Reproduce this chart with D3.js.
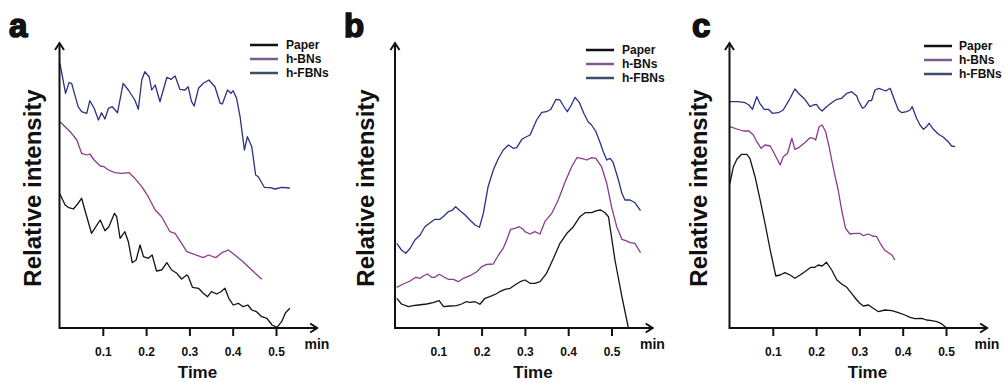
<!DOCTYPE html>
<html><head><meta charset="utf-8">
<script src="https://cdn.jsdelivr.net/npm/d3@7"></script>
<style>
html,body{margin:0;padding:0;background:#fff;}
svg{display:block;}
text{font-family:"Liberation Sans",Arial,sans-serif;font-weight:bold;fill:#111;}
</style></head>
<body>
<svg id="chart" width="1005" height="383"></svg>
<script>
// ---------- DATA (time in min, relative intensity a.u.) ----------
const seriesNames = ["Paper", "h-BNs", "h-FBNs"];
const xTicks = [0.1, 0.2, 0.3, 0.4, 0.5];
const panelLabels = ["a", "b", "c"];

const paperA = [[0.001,134],[0.013,123],[0.020,120.7],[0.032,119],[0.040,123],[0.051,129.7],[0.063,111.3],[0.074,94.7],[0.084,101.3],[0.094,108],[0.105,97.3],[0.114,101.3],[0.127,114.7],[0.132,111.3],[0.140,89.7],[0.151,96.3],[0.159,86.3],[0.168,65.3],[0.177,68],[0.186,83],[0.194,71.3],[0.205,69.7],[0.214,73],[0.224,57],[0.236,58],[0.248,65.3],[0.259,58],[0.271,54.7],[0.282,49],[0.294,53],[0.297,52],[0.307,40.7],[0.321,39.7],[0.332,34.7],[0.342,31.3],[0.351,36.3],[0.363,34],[0.373,36.3],[0.382,39.7],[0.391,29.7],[0.401,23],[0.413,24.7],[0.424,21.3],[0.435,23],[0.444,18],[0.455,16.3],[0.467,11.3],[0.479,9.7],[0.491,3],[0.502,0.7],[0.513,6.3],[0.522,15.3],[0.532,19.7]];
const bnsA = [[0.001,206.3],[0.013,201.3],[0.028,194.7],[0.040,188],[0.051,174.7],[0.063,173],[0.070,174],[0.080,168],[0.094,162],[0.103,161.3],[0.113,158],[0.128,155.3],[0.144,154.7],[0.161,155.3],[0.174,149.7],[0.190,141.3],[0.205,131.3],[0.221,118],[0.236,111.3],[0.255,96.3],[0.267,94.7],[0.282,84.7],[0.294,76.3],[0.305,74.7],[0.332,70.3],[0.344,73],[0.361,70.3],[0.375,75.3],[0.390,78],[0.405,73],[0.424,66.3],[0.444,58],[0.467,48.7]];
const fbnsA = [[0.001,264.7],[0.014,234.7],[0.022,245.3],[0.028,244.7],[0.043,221.3],[0.051,216.3],[0.063,214.7],[0.070,227.3],[0.080,219.7],[0.090,208],[0.097,215.3],[0.105,209],[0.113,219.7],[0.122,221.3],[0.134,215.3],[0.147,244.7],[0.159,238],[0.174,228],[0.182,218.7],[0.190,248],[0.197,256.3],[0.207,251.3],[0.213,238],[0.221,243],[0.232,226.3],[0.248,250.7],[0.258,248.7],[0.267,252],[0.278,238.7],[0.290,238],[0.297,241.3],[0.305,226.3],[0.311,222],[0.321,239.7],[0.332,244.7],[0.345,248],[0.359,241.3],[0.371,224.7],[0.376,224],[0.388,238],[0.396,234.7],[0.401,237.3],[0.409,229.7],[0.417,211.3],[0.427,178],[0.434,191.3],[0.444,181.3],[0.453,153],[0.459,151.3],[0.473,140.7],[0.486,140.3],[0.498,139],[0.513,140.7],[0.532,140]];

const paperB = [[0.004,29.7],[0.015,24],[0.031,21.3],[0.042,22.3],[0.054,23],[0.073,24],[0.088,25.3],[0.102,27.3],[0.112,21.3],[0.127,22],[0.142,22.3],[0.154,24],[0.164,26.3],[0.173,25.7],[0.185,26.3],[0.196,23.7],[0.208,29.7],[0.219,31.3],[0.233,34],[0.242,36.3],[0.254,38.7],[0.266,39.7],[0.277,43],[0.289,46.3],[0.300,48],[0.312,44.7],[0.323,44.7],[0.335,46.3],[0.350,54.7],[0.366,69.7],[0.381,84.7],[0.397,94.7],[0.412,101.3],[0.427,111.3],[0.439,115.3],[0.454,115.3],[0.466,117.3],[0.475,118],[0.485,115.3],[0.493,111.3],[0.508,68],[0.524,31.3],[0.539,0]];
const bnsB = [[0.004,40.7],[0.019,44],[0.035,47],[0.048,50.7],[0.058,49.7],[0.065,52],[0.075,54],[0.085,50.7],[0.092,50.7],[0.102,53.7],[0.112,51.3],[0.123,48.7],[0.135,48.7],[0.146,46.3],[0.158,49.7],[0.173,52.3],[0.189,56.3],[0.200,61.3],[0.212,63.7],[0.227,64],[0.239,73],[0.250,79.7],[0.258,88],[0.267,98.7],[0.277,99.7],[0.287,101.3],[0.296,98.7],[0.300,96.3],[0.312,94],[0.323,96.3],[0.335,94],[0.346,106.3],[0.362,114.7],[0.377,128],[0.393,146.3],[0.408,161.3],[0.420,170.3],[0.431,169.7],[0.443,168],[0.454,170.3],[0.464,169.7],[0.477,161.3],[0.489,144.7],[0.500,121.3],[0.512,101.3],[0.524,88.7],[0.533,87.3],[0.543,85.3],[0.554,84.7],[0.567,75.3]];
const fbnsB = [[0.004,84.7],[0.015,78],[0.025,74.7],[0.035,79.7],[0.046,88],[0.058,93],[0.069,101.3],[0.081,105.3],[0.092,108.7],[0.104,108.7],[0.113,112],[0.123,116.3],[0.131,117.3],[0.140,121.3],[0.150,117.3],[0.162,113],[0.173,108],[0.185,103],[0.195,100.7],[0.204,114.7],[0.215,141.3],[0.227,158],[0.239,169.7],[0.250,178],[0.262,183],[0.273,179.7],[0.281,180.3],[0.293,188.7],[0.300,190.5],[0.312,193],[0.327,208],[0.339,215.7],[0.350,216.3],[0.360,218.7],[0.372,228.7],[0.381,228],[0.389,222],[0.398,216.3],[0.406,222],[0.416,230.7],[0.426,225.3],[0.436,214.7],[0.446,206.3],[0.454,203],[0.464,196.3],[0.473,186.3],[0.481,176.3],[0.489,168],[0.497,169.7],[0.504,165.3],[0.516,148],[0.524,134.7],[0.531,128],[0.543,128],[0.554,125.3],[0.567,117.3]];

const paperC = [[0.001,144.7],[0.009,161.3],[0.017,168.7],[0.028,173.7],[0.040,173.7],[0.047,169.7],[0.059,151.3],[0.070,129.7],[0.082,104.7],[0.094,78],[0.107,52],[0.117,53],[0.128,55.3],[0.140,53],[0.151,49.7],[0.163,53],[0.174,56.3],[0.188,60.7],[0.197,60.7],[0.205,63],[0.214,62],[0.224,65.7],[0.236,58],[0.248,48],[0.259,44],[0.271,40.7],[0.282,34.7],[0.294,28],[0.301,24.7],[0.309,22],[0.321,23],[0.332,19.7],[0.344,16.3],[0.359,18],[0.375,17.3],[0.390,15.3],[0.405,13],[0.417,10.7],[0.428,9.3],[0.444,9.7],[0.455,8],[0.467,7.3],[0.479,6.3],[0.488,4.7],[0.498,1.3],[0.502,0]];
const bnsC = [[0.001,201.3],[0.017,199],[0.032,197],[0.045,197],[0.055,193],[0.063,186.3],[0.073,179.7],[0.082,183],[0.094,182],[0.103,174.7],[0.117,163],[0.124,171.3],[0.134,174.7],[0.144,189.7],[0.151,178.7],[0.161,180.7],[0.174,185.3],[0.186,190.3],[0.194,189.7],[0.199,188],[0.207,201.3],[0.214,203],[0.222,196.3],[0.230,181.3],[0.236,168],[0.244,151.3],[0.251,138],[0.259,118],[0.268,99.7],[0.278,94],[0.290,94.7],[0.301,94.7],[0.309,92.3],[0.321,94],[0.330,92],[0.340,91.3],[0.348,84.7],[0.358,78],[0.367,75.3],[0.375,73],[0.382,68]];
const fbnsC = [[0.001,226.3],[0.020,226.3],[0.036,225.3],[0.045,223],[0.053,218.7],[0.063,231.3],[0.070,224.7],[0.080,218.7],[0.090,218.7],[0.099,214.7],[0.113,215.3],[0.124,218],[0.140,229.7],[0.151,239],[0.161,234],[0.174,228.7],[0.186,221.3],[0.194,223],[0.201,223.7],[0.207,219.7],[0.214,217],[0.224,221.3],[0.236,225.3],[0.248,228.7],[0.259,229.7],[0.271,234.7],[0.282,236.3],[0.294,232],[0.297,228],[0.307,219.7],[0.313,221.3],[0.322,227.3],[0.328,227.3],[0.336,238],[0.345,239.7],[0.355,238],[0.361,237],[0.371,239.7],[0.381,228],[0.390,218],[0.398,215.3],[0.409,216.3],[0.417,218],[0.422,221.3],[0.432,209.7],[0.440,203],[0.448,198.7],[0.455,201.3],[0.461,204.7],[0.471,198.7],[0.482,194],[0.494,190.7],[0.505,186.3],[0.513,182],[0.521,181.3]];

// ---------- LAYOUT ----------
const colors = ["#141414", "#8c3a8e", "#2b3185"];
const legendColors = ["#111111", "#7e5c8e", "#3e4d6c"];
const panels = [
  {label: panelLabels[0], data: [paperA, bnsA, fbnsA], x0: 59.5, labX: 9, yLabX: 33, legX: 250, legTextX: 286, legY: 45},
  {label: panelLabels[1], data: [paperB, bnsB, fbnsB], x0: 395, labX: 344, yLabX: 366, legX: 586, legTextX: 622, legY: 50},
  {label: panelLabels[2], data: [paperC, bnsC, fbnsC], x0: 729.5, labX: 692, yLabX: 699, legX: 924, legTextX: 959, legY: 46}
];
const axisY = 328;
const svg = d3.select("#chart");

panels.forEach(p => {
  const g = svg.append("g");
  const x = d3.scaleLinear().domain([0, 0.6]).range([p.x0, p.x0 + 259.8]);
  const y = d3.scaleLinear().domain([0, 290]).range([axisY, 38]);

  // series lines
  const line = d3.line().x(d => x(d[0])).y(d => y(d[1])).curve(d3.curveLinear);
  p.data.forEach((s, i) => {
    g.append("path").datum(s).attr("d", line)
      .attr("fill", "none").attr("stroke", colors[i])
      .attr("stroke-width", 1.3).attr("stroke-linejoin", "round");
  });

  // x axis ticks
  const xa = d3.axisBottom(x).tickValues(xTicks).tickFormat(d3.format(".1f"))
    .tickSize(8).tickSizeOuter(0).tickPadding(11);
  const ax = g.append("g").attr("transform", `translate(0,${axisY})`).call(xa);
  ax.select(".domain").remove();
  ax.selectAll(".tick line").attr("stroke", "#111").attr("stroke-width", 2);
  ax.selectAll(".tick text").attr("font-size", 12).attr("font-weight", "bold")
    .attr("font-family", '"Liberation Sans",Arial,sans-serif').attr("fill", "#111");

  // axis lines with arrows
  const xEnd = x(0.595);
  const yTop = 43;
  g.append("path").attr("d", `M${p.x0},${yTop+1}V${axisY}H${xEnd-1}`)
    .attr("fill", "none").attr("stroke", "#111").attr("stroke-width", 2);
  g.append("path").attr("d", `M${p.x0-4.5},${yTop+7}L${p.x0},${yTop}L${p.x0+4.5},${yTop+7}`)
    .attr("fill", "none").attr("stroke", "#111").attr("stroke-width", 2);
  g.append("path").attr("d", `M${xEnd-7},${axisY-4.5}L${xEnd},${axisY}L${xEnd-7},${axisY+4.5}`)
    .attr("fill", "none").attr("stroke", "#111").attr("stroke-width", 2);

  // axis texts
  g.append("text").attr("x", p.x0 + 245).attr("y", 349).attr("font-size", 14).text("min");
  g.append("text").attr("x", p.x0 + 138).attr("y", 378).attr("text-anchor", "middle")
    .attr("font-size", 17).text("Time");
  g.append("text").attr("transform", `translate(${p.yLabX + 8},188) rotate(-90)`)
    .attr("text-anchor", "middle").attr("font-size", 24).text("Relative intensity");

  // panel letter
  g.append("text").attr("x", p.labX).attr("y", 37).attr("font-size", 33)
    .attr("stroke", "#111").attr("stroke-width", 1.6).text(p.label);

  // legend
  seriesNames.forEach((n, i) => {
    const ly = p.legY + i * 14;
    g.append("line").attr("x1", p.legX).attr("x2", p.legX + 28).attr("y1", ly).attr("y2", ly)
      .attr("stroke", legendColors[i]).attr("stroke-width", 2.5);
    g.append("text").attr("x", p.legTextX).attr("y", ly + 4.2).attr("font-size", 12).text(n);
  });
});
</script>
</body></html>
